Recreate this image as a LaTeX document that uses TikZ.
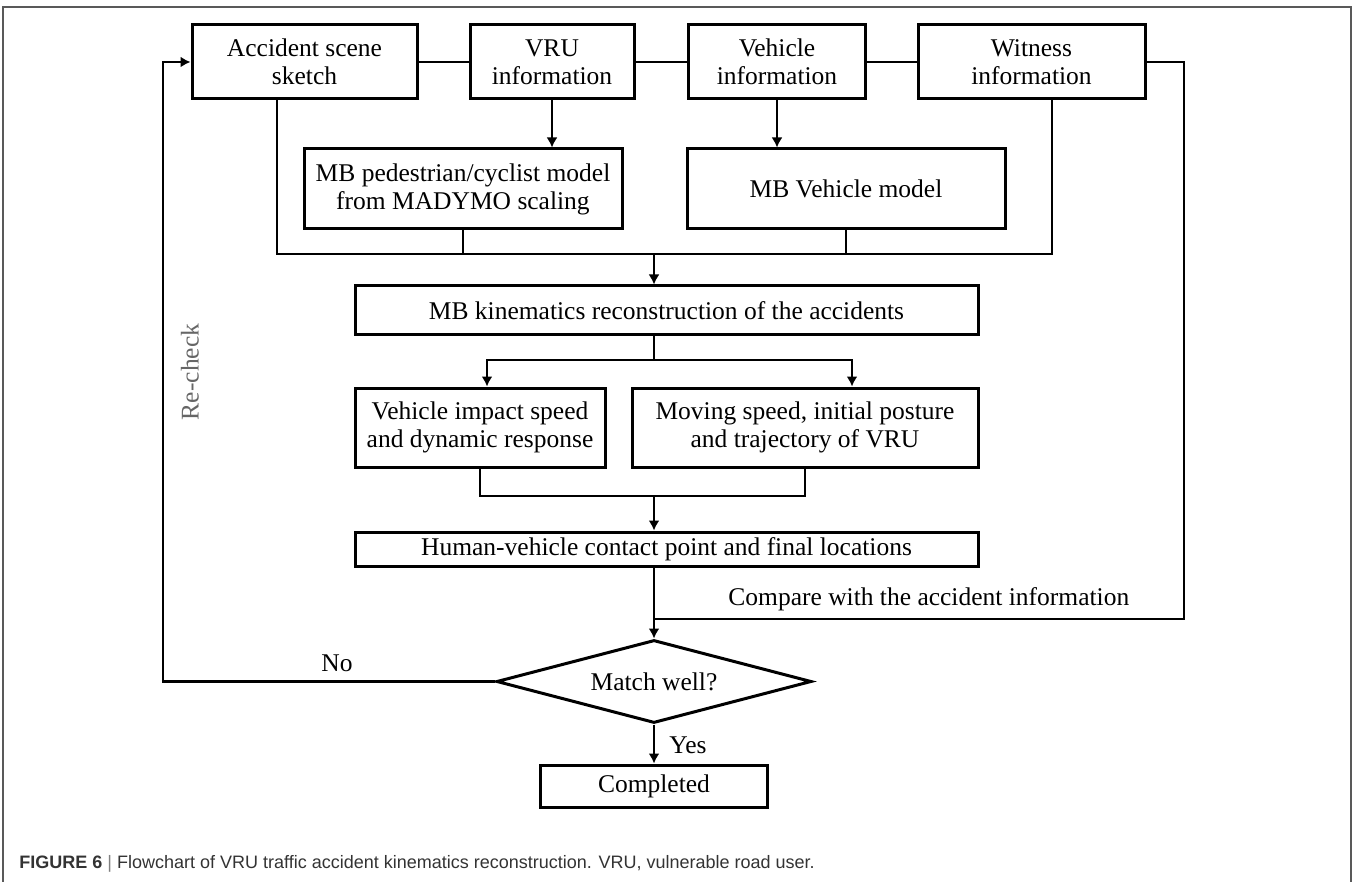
\documentclass[tikz,border=0pt]{standalone}
\usepackage{fontspec}
\setmainfont{Liberation Serif}
\newfontfamily\capfont{Liberation Sans}
\usetikzlibrary{arrows.meta,shapes.geometric}

\begin{document}
\begin{tikzpicture}[x=0.5pt, y=-0.5pt,
  every node/.style={font=\fontsize{12.75}{14}\selectfont},
  blk/.style={draw, line width=1.5pt, align=center, inner sep=0pt},
  link/.style={line width=1.35pt},
  flow/.style={line width=1.35pt, -{Latex[length=5pt,width=5.5pt]}}]
  \useasboundingbox (0,0) rectangle (1355,882);

  % --- frame ---
  \draw[black!65, line width=0.8pt] (3,882) -- (3,7) -- (1351,7) -- (1351,882);

  % === top row: accident information ===
  \node[blk, minimum width=112.5pt, minimum height=37pt] (acc) at (304.5,62) {Accident scene\\sketch};
  \node[blk, minimum width=82pt, minimum height=37pt] (vru) at (552,62) {VRU\\information};
  \node[blk, minimum width=88.5pt, minimum height=37pt] (veh) at (777,62) {Vehicle\\information};
  \node[blk, minimum width=113.5pt, minimum height=37pt] (wit) at (1031.5,62) {Witness\\information};
  \draw[link] (acc) -- (vru);
  \draw[link] (vru) -- (veh);
  \draw[link] (veh) -- (wit);

  % === MB models ===
  \node[blk, minimum width=159pt, minimum height=40pt] (ped) at (463,189)
    {MB pedestrian/cyclist model\\from MADYMO scaling};
  \node[blk, minimum width=159pt, minimum height=40pt] (mbveh) at (846,189) {MB Vehicle model};
  \draw[flow] (vru.south) -- (vru.south |- ped.north);
  \draw[flow] (veh.south) -- (veh.south |- mbveh.north);

  % merge into reconstruction
  \coordinate (accdn) at (277,254);
  \coordinate (witdn) at (1052,254);
  \coordinate (col1)  at (654,254);
  \draw[link] (acc.south -| accdn) -- (accdn) -- (witdn) -- (wit.south -| witdn);
  \draw[link] (ped) -- (ped.south |- accdn);
  \draw[link] (mbveh) -- (mbveh.south |- accdn);

  \node[blk, minimum width=311.5pt, minimum height=24.5pt] (kin) at (666.5,310.5)
    {MB kinematics reconstruction of the accidents};
  \draw[flow] (col1) -- (col1 |- kin.north);

  % === results ===
  \node[blk, minimum width=125pt, minimum height=39.5pt] (imp) at (480,427.5)
    {Vehicle impact speed\\and dynamic response};
  \node[blk, minimum width=173pt, minimum height=39.5pt] (mov) at (805,427.5)
    {Moving speed, initial posture\\and trajectory of VRU};
  \coordinate (spl)  at (654,360);
  \coordinate (splL) at (487,360);
  \coordinate (splR) at (852,360);
  \draw[link] (kin.south -| spl) -- (spl);
  \draw[flow] (spl) -- (splL) -- (splL |- imp.north);
  \draw[flow] (spl) -- (splR) -- (splR |- mov.north);

  \node[blk, minimum width=311.5pt, minimum height=17pt] (hum) at (666.5,549)
    {Human-vehicle contact point and final locations};
  \coordinate (mrg) at (654,496);
  \draw[link] (imp.south) -- (imp.south |- mrg) -- (mov.south |- mrg) -- (mov.south);
  \draw[flow] (mrg) -- (mrg |- hum.north);

  % === check ===
  \node[diamond, aspect=3.8, draw, line width=1.5pt, inner sep=0pt,
        minimum width=157.5pt, minimum height=41.5pt] (match) at (654,681.5) {Match well?};
  \coordinate (cmp) at (654,619);
  \coordinate (rgt) at (1184,619);
  \draw[link] (wit.east) -| (rgt) -- (cmp);
  \draw[flow] (hum.south -| cmp) -- (match.north);
  \node[anchor=west, inner sep=0pt] (cmptxt) at (728,599) {Compare with the accident information};

  % no: back to the sketch
  \coordinate (lft) at (163,681.5);
  \draw[flow] (match.west) -- (lft) |- (acc.west);
  \node (no) at (337,663) {No};
  \node[rotate=90, text=black!60] (rechk) at (190,372) {Re-check};

  % yes
  \node[blk, minimum width=113.5pt, minimum height=21pt] (done) at (654,786) {Completed};
  \draw[flow] (match.south) -- (done.north);
  \node[anchor=west, inner sep=0pt] (yes) at (669,745) {Yes};

  % caption
  \node[anchor=west, inner sep=0pt, text=black!80, font=\capfont\fontsize{9}{10}\selectfont] (cap) at (19,864)
    {\textbf{FIGURE 6} {\color{black!50}|} Flowchart of VRU traffic accident kinematics reconstruction. VRU, vulnerable road user.};
\end{tikzpicture}
\end{document}
